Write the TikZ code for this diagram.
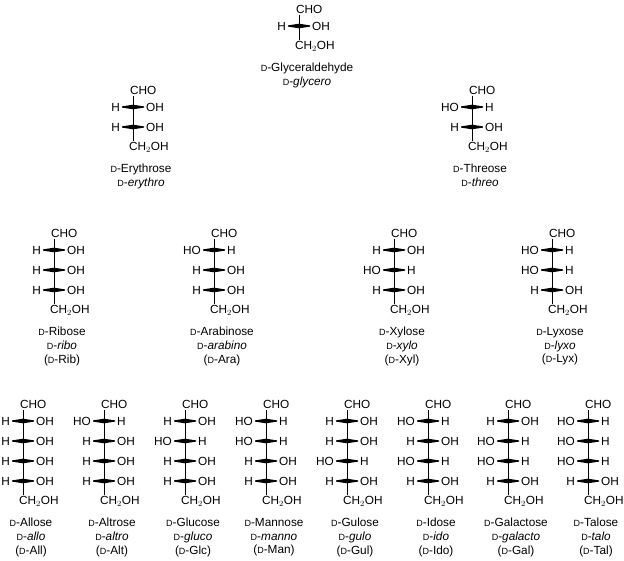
\documentclass[tikz,border=0pt]{standalone}
\usepackage{fontspec}
\setmainfont{Liberation Sans}
\newcommand\Dsc{{\fontsize{9}{9}\selectfont D}}
\tikzset{grp/.style={inner sep=0pt,font=\fontsize{11.8}{11.8}\selectfont},
 lbl/.style={inner sep=0pt,align=center,anchor=north,font=\fontsize{11.8}{13.8}\selectfont}}
\newcommand\fis[5]{%
\begin{scope}[shift={(#2,#3)}]
\node[grp,anchor=west] (#1cho) at (-3,-17) {CHO};
\foreach \l/\r [count=\i] in {#4}{
  \pgfmathsetmacro\yy{(\i-1)*20}
  \node[grp,anchor=east] (#1l\i) at (-13,\yy) {\l};
  \node[grp,anchor=west] (#1r\i) at (13,\yy) {\r};
  \fill (0,\yy-2.3)--(-11,\yy-0.6)--(-11,\yy+0.6)--(0,\yy+2.3)--cycle;
  \fill (0,\yy-2.3)--(11,\yy-0.6)--(11,\yy+0.6)--(0,\yy+2.3)--cycle;
  \xdef\nrows{\i}
}
\pgfmathsetmacro\yb{\nrows*20}
\node[grp,anchor=west] (#1ch) at (-4,\yb) {CH$_2$OH};
\draw[line width=0.8pt] (0,-11) -- (0,\yb-6);
\node[lbl] (#1lab) at (8,\yb+17) {#5};
\end{scope}}
\begin{document}
\begin{tikzpicture}[x=1pt,y=-1pt]
\useasboundingbox (0,0) rectangle (624,561);
\fis{gly}{299}{26}{H/OH}{\Dsc-Glyceraldehyde\\\Dsc-\textit{glycero}}
\fis{ery}{133}{107}{H/OH,H/OH}{\Dsc-Erythrose\\\Dsc-\textit{erythro}}
\fis{thr}{472}{107}{HO/H,H/OH}{\Dsc-Threose\\\Dsc-\textit{threo}}
\fis{rib}{54}{250}{H/OH,H/OH,H/OH}{\Dsc-Ribose\\\Dsc-\textit{ribo}\\(\Dsc-Rib)}
\fis{ara}{214}{250}{HO/H,H/OH,H/OH}{\Dsc-Arabinose\\\Dsc-\textit{arabino}\\(\Dsc-Ara)}
\fis{xyl}{394}{250}{H/OH,HO/H,H/OH}{\Dsc-Xylose\\\Dsc-\textit{xylo}\\(\Dsc-Xyl)}
\fis{lyx}{552}{250}{HO/H,HO/H,H/OH}{\Dsc-Lyxose\\\Dsc-\textit{lyxo}\\(\Dsc-Lyx)}
\fis{all}{23}{421}{H/OH,H/OH,H/OH,H/OH}{\Dsc-Allose\\\Dsc-\textit{allo}\\(\Dsc-All)}
\fis{alt}{104}{421}{HO/H,H/OH,H/OH,H/OH}{\Dsc-Altrose\\\Dsc-\textit{altro}\\(\Dsc-Alt)}
\fis{glc}{185}{421}{H/OH,HO/H,H/OH,H/OH}{\Dsc-Glucose\\\Dsc-\textit{gluco}\\(\Dsc-Glc)}
\fis{man}{266}{421}{HO/H,HO/H,H/OH,H/OH}{\Dsc-Mannose\\\Dsc-\textit{manno}\\(\Dsc-Man)}
\fis{gul}{347}{421}{H/OH,H/OH,HO/H,H/OH}{\Dsc-Gulose\\\Dsc-\textit{gulo}\\(\Dsc-Gul)}
\fis{ido}{428}{421}{HO/H,H/OH,HO/H,H/OH}{\Dsc-Idose\\\Dsc-\textit{ido}\\(\Dsc-Ido)}
\fis{gal}{508}{421}{H/OH,HO/H,HO/H,H/OH}{\Dsc-Galactose\\\Dsc-\textit{galacto}\\(\Dsc-Gal)}
\fis{tal}{588}{421}{HO/H,HO/H,HO/H,H/OH}{\Dsc-Talose\\\Dsc-\textit{talo}\\(\Dsc-Tal)}
\end{tikzpicture}
\end{document}
